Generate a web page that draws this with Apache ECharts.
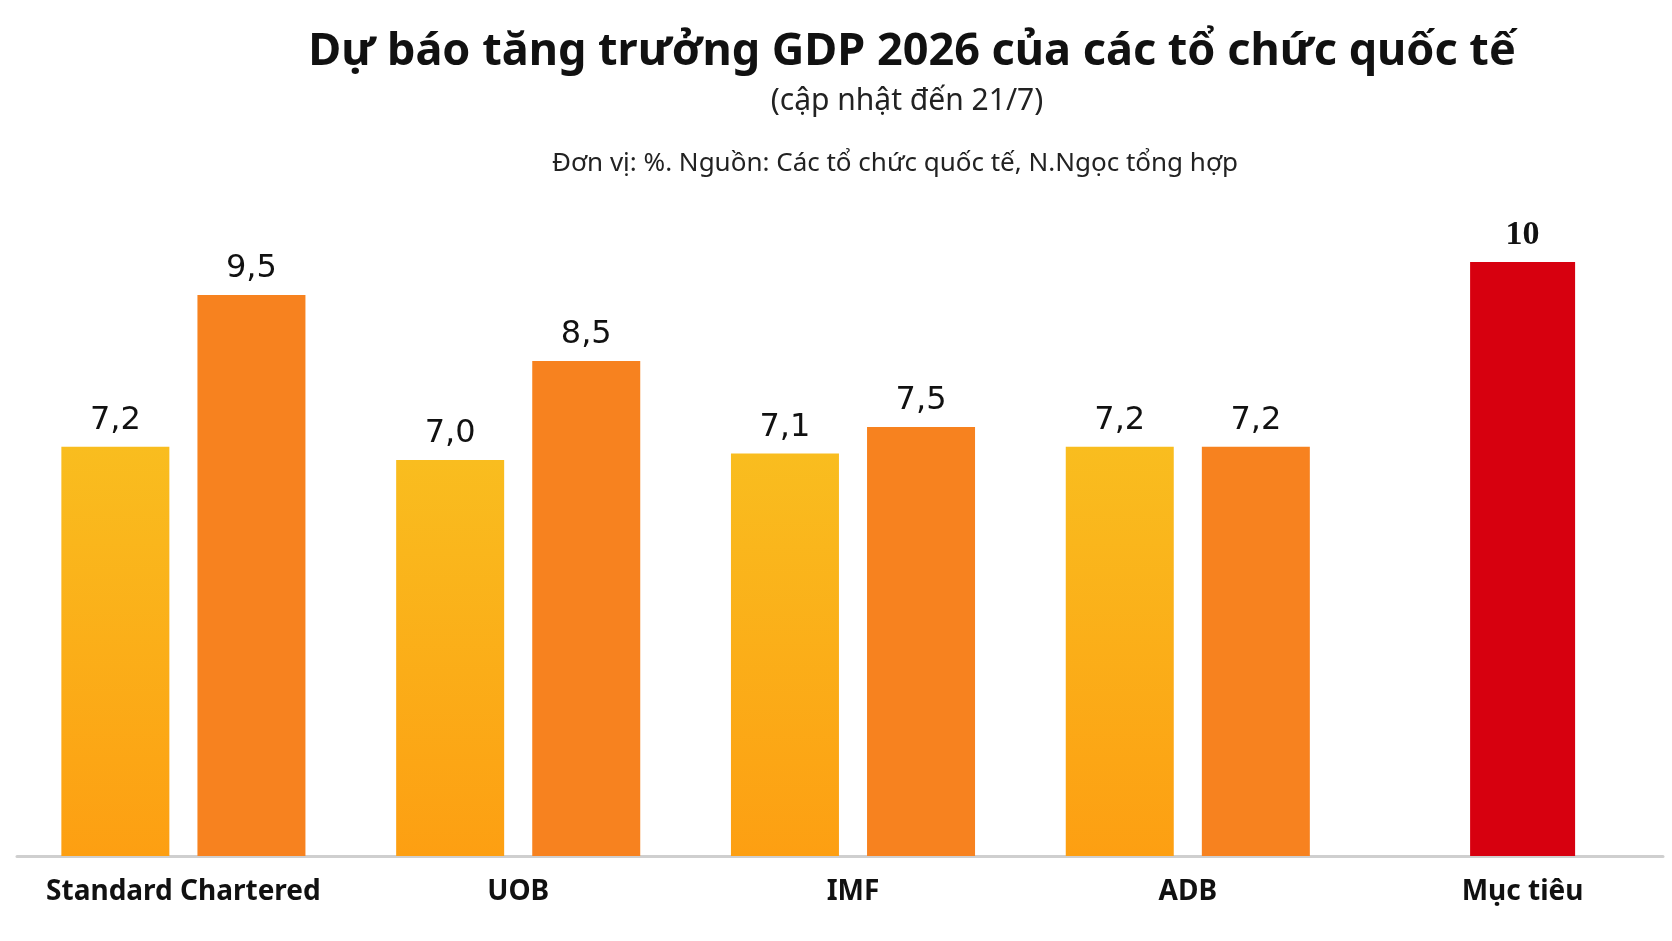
<!DOCTYPE html>
<html>
<head>
<meta charset="utf-8">
<script src="https://cdn.jsdelivr.net/npm/echarts@6/dist/echarts.min.js"></script>
<style>
html, body { margin: 0; padding: 0; background: #fff; }
#plot { width: 1672px; height: 941px; }
</style>
</head>
<body>
<div id="plot"></div>
<script>
var categories = ['Standard Chartered', 'UOB', 'IMF', 'ADB', 'Mục tiêu'];
var firstValues = [7.2, 7.0, 7.1, 7.2, '-'];
var secondValues = [9.5, 8.5, 7.5, 7.2, '-'];
var targetValues = ['-', '-', '-', '-', 10];

function fmt (p) {
	return p.value.toFixed(1).replace('.', ',');
}

var labelStyle = {
	show: true,
	position: 'top',
	distance: 10,
	fontFamily: 'DejaVu Sans',
	fontSize: 32,
	color: '#111'
};

var option = {
	backgroundColor: '#ffffff',
	animation: false,
	title: [
		{
			text: 'Dự báo tăng trưởng GDP 2026 của các tổ chức quốc tế',
			left: 907, top: 25, textAlign: 'center',
			textStyle: { fontFamily: 'Noto Sans', fontWeight: 'bold', fontSize: 45, color: '#111' }
		},
		{
			text: '(cập nhật đến 21/7)',
			left: 902, top: 81, textAlign: 'center',
			textStyle: { fontFamily: 'Noto Sans', fontWeight: 'normal', fontSize: 30, color: '#222' }
		},
		{
			text: 'Đơn vị: %. Nguồn: Các tổ chức quốc tế, N.Ngọc tổng hợp',
			left: 890, top: 146, textAlign: 'center',
			textStyle: { fontFamily: 'Noto Sans', fontWeight: 'normal', fontSize: 26, color: '#222' }
		}
	],
	grid: [
		{ left: 16, right: -18, top: 262, bottom: 85, outerBoundsMode: 'none' },
		{ left: 17, right: 9, top: 262, bottom: 85, outerBoundsMode: 'none' }
	],
	xAxis: [
		{
			type: 'category', gridIndex: 0, data: categories,
			axisLine: { show: false }, axisTick: { show: false },
			axisLabel: { interval: 0, margin: 22, fontFamily: 'Noto Sans', fontWeight: 'bold', fontSize: 28, color: '#111' }
		},
		{
			type: 'category', gridIndex: 0, data: categories, show: false
		},
		{
			type: 'category', gridIndex: 1, data: categories,
			axisLine: { show: true, lineStyle: { color: '#cfcfcf', width: 3 } },
			axisTick: { show: false }, axisLabel: { show: false }
		}
	],
	yAxis: [
		{ type: 'value', gridIndex: 0, min: 1, max: 10, show: false, splitLine: { show: false } },
		{ type: 'value', gridIndex: 1, min: 1, max: 10, show: false, splitLine: { show: false } }
	],
	series: [
		{
			type: 'bar', xAxisIndex: 0, yAxisIndex: 0,
			data: firstValues, barWidth: 108, barGap: '26%',
			itemStyle: {
				color: new echarts.graphic.LinearGradient(0, 0, 0, 1, [
					{ offset: 0, color: '#f9bd1f' },
					{ offset: 1, color: '#fd9f12' }
				])
			},
			label: Object.assign({ formatter: fmt }, labelStyle)
		},
		{
			type: 'bar', xAxisIndex: 0, yAxisIndex: 0,
			data: secondValues, barWidth: 108, barGap: '26%',
			itemStyle: { color: '#f7821f' },
			label: Object.assign({ formatter: fmt }, labelStyle)
		},
		{
			type: 'bar', xAxisIndex: 1, yAxisIndex: 0,
			data: targetValues, barWidth: 105,
			itemStyle: { color: '#d7000f' },
			label: Object.assign({}, labelStyle, { formatter: '{c}', fontFamily: 'Liberation Serif', fontWeight: 'bold', fontSize: 34 })
		}
	]
};

var myChart = echarts.init(document.getElementById('plot'));
myChart.setOption(option);
</script>
</body>
</html>
